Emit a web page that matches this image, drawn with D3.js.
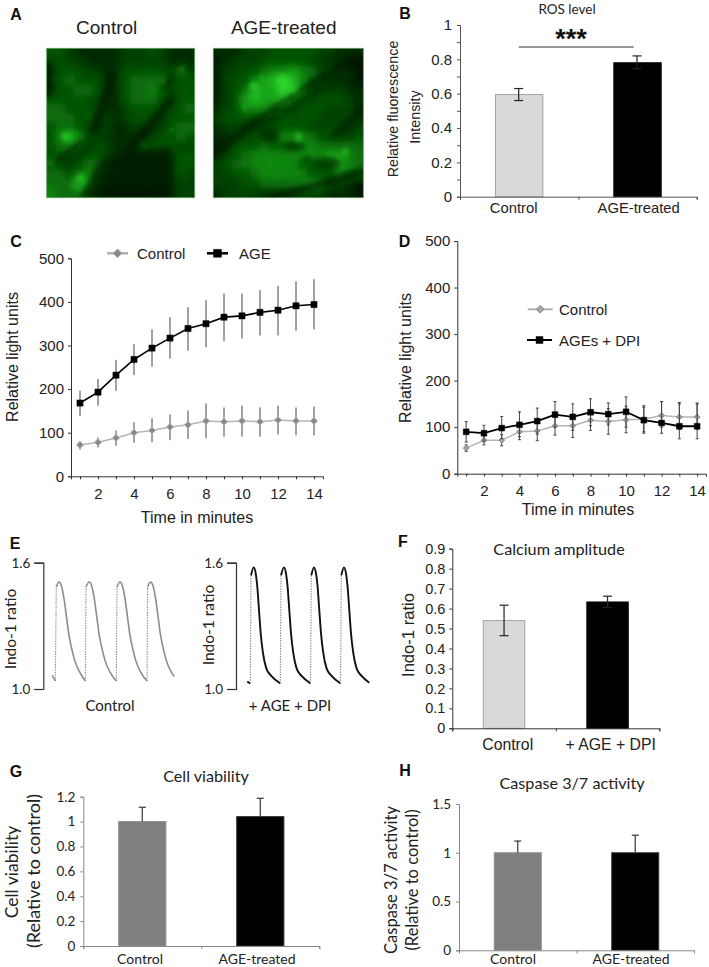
<!DOCTYPE html>
<html><head><meta charset="utf-8">
<script src="https://cdn.jsdelivr.net/npm/d3@7"></script>
<style>
html,body{margin:0;padding:0;background:#fff}
svg{display:block}
text{font-family:"Liberation Sans",Arial,sans-serif;fill:#222}
.cal{font-family:Lato,sans-serif}
</style></head><body>
<script>
// ---------- Panel A: fluorescence intensity (0-8)
const imgControl=[
[3,3,2,1,1,1,1,1,2,2,2,3,2,1,1,1],[2,3,2,2,1,1,1,1,2,2,2,2,2,1,1,1],
[1,3,3,3,2,2,1,1,3,3,3,3,3,2,4,2],[1,3,4,3,3,3,1,1,3,4,4,4,4,2,3,3],
[1,3,3,4,4,3,1,1,3,4,4,5,3,2,3,3],[3,3,3,3,3,2,1,1,3,4,4,4,3,1,3,3],
[4,4,3,3,3,2,1,1,2,3,3,3,2,2,3,4],[4,4,4,3,3,1,2,1,2,3,3,2,1,3,3,3],
[3,4,4,3,2,1,2,1,1,2,1,1,2,3,4,4],[3,5,7,5,2,2,2,1,1,1,1,2,3,3,4,3],
[3,4,4,3,1,3,2,1,1,1,2,3,3,3,2,2],[3,3,2,1,3,3,2,1,1,1,1,1,1,1,3,3],
[4,2,1,3,4,4,2,1,1,1,1,1,1,1,3,3],[4,4,3,4,5,3,1,1,1,1,1,1,1,1,3,2],
[4,4,4,7,5,2,1,1,1,1,1,1,1,1,2,2],[5,4,4,4,2,1,0,0,0,0,0,0,0,1,2,2]];
const imgTreated=[
[1,1,1,2,2,2,3,3,3,3,3,2,2,1,1,1],[1,1,2,2,2,3,3,3,3,3,2,2,1,1,0,0],
[1,2,2,3,3,4,5,5,6,5,4,2,2,1,1,0],[1,2,3,3,5,6,7,8,7,5,3,2,1,1,1,0],
[1,2,3,4,7,6,6,8,7,4,1,1,2,2,1,1],[1,2,3,6,7,6,6,6,3,1,2,3,3,3,2,1],
[2,2,3,5,5,5,3,1,1,3,3,3,2,2,2,1],[2,3,3,3,2,1,1,3,3,3,3,2,2,2,2,1],
[1,2,2,1,1,2,3,3,3,3,2,2,3,2,1,2],[1,1,1,2,3,2,2,5,5,5,4,3,2,1,2,3],
[0,1,3,3,3,4,3,3,3,5,5,4,4,4,4,4],[1,2,3,4,5,5,5,5,5,5,5,5,6,6,5,4],
[2,3,4,4,5,5,5,5,5,3,3,3,3,6,5,4],[2,2,3,3,4,5,5,5,5,5,3,3,3,4,3,3],
[2,2,2,3,3,4,4,4,4,4,5,4,2,2,1,0],[1,2,2,2,2,1,1,1,2,2,2,2,1,1,1,0]];
// gaps between cells, dark nuclei and bright puncta [x,y,...] on a 0-450 image frame
const controlGaps=[[10,365,110,285,7],[250,320,375,165,16],[150,250,205,85,15],[12,60,12,140,18],[360,130,385,90,6]];
const controlDarkArea=[[110,450],[165,340],[240,320],[375,300],[385,450]];
const controlSpots=[[65,270,13],[110,392,11],[380,250,5],[415,68,5],[300,295,4],[35,100,3],[130,210,4],[20,350,4]];
const treatedGaps=[[10,330,130,225,12],[130,225,300,110,9],[300,110,440,35,12],[190,450,450,375,17],[370,260,450,190,10],[15,30,15,200,14]];
const treatedNuclei=[[175,265,27,21],[250,300,32,15],[345,350,42,19],[285,338,18,8]];
const treatedSpots=[[128,120,13],[210,100,13],[245,130,7],[150,95,6],[100,180,6],[100,350,4],[400,315,10],[260,270,11]];

// ---------- Panel B
const rosCategories=["Control","AGE-treated"];
const rosValues=[0.595,0.78];
const rosLow=[0.56,0.745];
const rosHigh=[0.63,0.82];

// ---------- Panels C and D
const minutes=[1,2,3,4,5,6,7,8,9,10,11,12,13,14];
const cControl=[72,78,88,100,105,113,118,127,125,127,125,129,127,127];
const cControlHigh=[81,89,105,124,133,142,151,167,158,162,158,162,158,160];
const cControlLow=[61,66,70,77,78,83,86,87,91,91,91,96,94,94];
const cAge=[168,193,232,268,294,317,339,350,365,368,376,381,391,394];
const cAgeHigh=[196,223,267,303,337,365,388,404,419,419,427,437,447,452];
const cAgeLow=[138,162,196,232,251,270,288,296,310,316,323,323,334,337];
const dControl=[55,72,72,90,92,103,103,115,112,116,117,125,122,122];
const dControlHigh=[62,82,84,105,112,123,128,137,140,145,143,155,150,150];
const dControlLow=[48,62,60,73,71,83,78,93,85,88,90,100,95,95];
const dAge=[90,87,98,105,113,127,122,132,128,133,115,109,102,102];
const dAgeHigh=[112,104,123,133,141,155,150,161,152,165,146,155,153,152];
const dAgeLow=[68,70,75,80,85,100,93,103,105,100,87,87,75,75];

// ---------- Panel E: calcium transients
const eControlTime=[0,.3,.4,.67,.9,1.17,1.4,1.64,1.9,2.24,2.74,3.3,3.37,3.7,3.93,4.2,4.43,4.67,4.93,5.27,5.77,6.4,6.47,6.77,7,7.27,7.5,7.74,8,8.34,8.84,9.47,9.53,9.83,10.06,10.33,10.56,10.8,11.06,11.4,11.9,12.2];
const eControlRatio=[1.065,1.038,1.485,1.508,1.492,1.429,1.35,1.263,1.2,1.136,1.08,1.038,1.485,1.508,1.492,1.429,1.35,1.263,1.2,1.136,1.08,1.038,1.485,1.508,1.492,1.429,1.35,1.263,1.2,1.136,1.08,1.038,1.485,1.508,1.492,1.429,1.35,1.263,1.2,1.136,1.08,1.06];
const eAgeTime=[0,.3,.37,.64,.84,1,1.17,1.34,1.57,1.9,2.4,3.3,3.37,3.67,3.87,4.03,4.2,4.37,4.6,4.93,5.43,6.33,6.4,6.67,6.87,7.03,7.2,7.37,7.6,7.93,8.43,9.33,9.4,9.67,9.87,10.03,10.2,10.37,10.6,10.93,11.43,12.2];
const eAgeRatio=[1.035,1.027,1.54,1.578,1.549,1.486,1.375,1.265,1.17,1.098,1.062,1.027,1.54,1.578,1.549,1.486,1.375,1.265,1.17,1.098,1.062,1.027,1.54,1.578,1.549,1.486,1.375,1.265,1.17,1.098,1.062,1.027,1.54,1.578,1.549,1.486,1.375,1.265,1.17,1.098,1.062,1.03];

// ---------- Panel F
const caCategories=["Control","+ AGE + DPI"];
const caValues=[0.54,0.633];
const caLow=[0.464,0.605];
const caHigh=[0.617,0.662];
// ---------- Panel G
const viaCategories=["Control","AGE-treated"];
const viaValues=[1.0,1.04];
const viaHigh=[1.115,1.187];
// ---------- Panel H
const casCategories=["Control","AGE-treated"];
const casValues=[1.0,1.0];
const casHigh=[1.12,1.18];

const svg=d3.select("body").append("svg").attr("width",709).attr("height",967);
svg.append("rect").attr("width",709).attr("height",967).attr("fill","#fff");
const defs=svg.append("defs");
function blur(id,s){defs.append("filter").attr("id",id).attr("x","-20%").attr("y","-20%").attr("width","140%").attr("height","140%")
  .append("feGaussianBlur").attr("stdDeviation",s);}
blur("soft",4.2);blur("fine",2);

function label(t,x,y,opt={}){
  const e=svg.append("text").text(t).attr("text-anchor",opt.anchor||"middle")
   .attr("dominant-baseline","central").attr("font-size",opt.size||15)
   .attr("transform",`translate(${x},${y})`+(opt.rot?` rotate(${opt.rot})`:""));
  if(opt.cal)e.attr("class","cal");
  if(opt.bold)e.attr("font-weight","bold");
  if(opt.fill)e.style("fill",opt.fill);
  return e;
}
[["A",16,14],["B",405,13],["C",16,241],["D",404.5,241],["E",15,543],["F",403,541],["G",16,771],["H",405,770]]
  .forEach(d=>label(d[0],d[1],d[2],{size:16,bold:true,fill:"#111"}));

// ---------- micrographs
const green=d3.scaleLinear().domain([0,1,3,5,8]).range(["#001500","#012c01","#065206","#0c860c","#30dc30"]);
function micro(grid,gaps,area,nuclei,spots,x0,x1,y0,y1,id){
  const cols=d3.range(grid[0].length),rows=d3.range(grid.length);
  const bx=d3.scaleBand().domain(cols).range([x0,x1]);
  const by=d3.scaleBand().domain(rows).range([y0,y1]);
  const fx=d3.scaleLinear().domain([8,452]).range([x0,x1]);
  const fy=d3.scaleLinear().domain([8,452]).range([y0,y1]);
  defs.append("clipPath").attr("id",id).append("rect").attr("x",x0).attr("y",y0).attr("width",x1-x0).attr("height",y1-y0);
  const clip=svg.append("g").attr("clip-path",`url(#${id})`);
  const g=clip.append("g").attr("filter","url(#soft)");
  const pad=16;
  rows.forEach(r=>cols.forEach(c=>{
    const l=c===0?pad:0,rr=c===cols.length-1?pad:0,t=r===0?pad:0,b=r===rows.length-1?pad:0;
    g.append("rect").attr("x",bx(c)-l-.3).attr("y",by(r)-t-.3)
      .attr("width",bx.bandwidth()+l+rr+.6).attr("height",by.bandwidth()+t+b+.6)
      .attr("fill",green(grid[r][c]));
  }));
  const o=clip.append("g").attr("filter","url(#fine)");
  if(area)o.append("path").attr("d",d3.line().x(d=>fx(d[0])).y(d=>fy(d[1]))(area)+"Z").attr("fill",green(0)).attr("opacity",.55);
  o.selectAll("line").data(gaps).join("line")
    .attr("x1",d=>fx(d[0])).attr("y1",d=>fy(d[1])).attr("x2",d=>fx(d[2])).attr("y2",d=>fy(d[3]))
    .attr("stroke",green(0)).attr("stroke-width",d=>d[4]/3).attr("stroke-linecap","round").attr("opacity",.65);
  if(nuclei)o.selectAll("ellipse").data(nuclei).join("ellipse")
    .attr("cx",d=>fx(d[0])).attr("cy",d=>fy(d[1])).attr("rx",d=>d[2]/3).attr("ry",d=>d[3]/3)
    .attr("fill",green(1)).attr("opacity",.55);
  o.selectAll("circle").data(spots).join("circle")
    .attr("cx",d=>fx(d[0])).attr("cy",d=>fy(d[1])).attr("r",d=>d[2]/3)
    .attr("fill",green(8)).attr("opacity",.55);
  svg.append("rect").attr("x",x0).attr("y",y0).attr("width",x1-x0).attr("height",y1-y0)
    .attr("fill","none").attr("stroke","#5f9f5f").attr("stroke-width",.8);
}
micro(imgControl,controlGaps,controlDarkArea,null,controlSpots,46.7,194.7,48.3,197.7,"clipA");
micro(imgTreated,treatedGaps,null,treatedNuclei,treatedSpots,213.3,363.3,48.3,197.7,"clipB");
label("Control",106.7,27,{size:19});
label("AGE-treated",283.7,27,{size:19});

function styleAxis(g,color,w,size,cal){
  g.selectAll("path").attr("stroke",color).attr("stroke-width",w);
  g.selectAll("line").attr("stroke",color).attr("stroke-width",w);
  g.selectAll("text").attr("font-size",size).style("fill","#222");
  if(cal)g.selectAll("text").attr("class","cal");
}

// ---------- bar panels
function bars(o){
  const y=d3.scaleLinear().domain(o.domain).range([o.y0,o.y1]);
  const x=d3.scaleBand().domain(o.cats).range([o.x0,o.x1]).paddingInner(o.pad).paddingOuter(o.pad/2);
  const pos=d3.scaleLinear().domain([0,o.cats.length]).range([o.x0,o.x1]);
  const plot=svg.append("g");
  plot.selectAll("rect").data(o.cats).join("rect")
    .attr("x",c=>x(c)).attr("width",x.bandwidth())
    .attr("y",(c,i)=>y(o.vals[i])).attr("height",(c,i)=>o.y0-y(o.vals[i]))
    .attr("fill",(c,i)=>o.fills[i]).attr("stroke",(c,i)=>o.strokes[i]).attr("stroke-width",1);
  o.cats.forEach((c,i)=>{
    const cx=x(c)+x.bandwidth()/2+(o.errDx||0);
    const lo=o.low?o.low[i]:o.vals[i];
    const e=svg.append("g").attr("stroke",o.errColor||"#222").attr("stroke-width",o.errW||1.2);
    e.append("line").attr("x1",cx).attr("x2",cx).attr("y1",y(lo)).attr("y2",y(o.high[i]));
    e.append("line").attr("x1",cx-o.cap).attr("x2",cx+o.cap).attr("y1",y(o.high[i])).attr("y2",y(o.high[i]));
    if(o.low)e.append("line").attr("x1",cx-o.cap).attr("x2",cx+o.cap).attr("y1",y(lo)).attr("y2",y(lo));
  });
  const ya=svg.append("g").attr("transform",`translate(${o.x0},0)`)
    .call(d3.axisLeft(y).tickValues(o.ticks).tickFormat(o.fmt).tickSizeOuter(0).tickSize(o.tick||3).tickPadding(o.tpad||4));
  styleAxis(ya,o.axis,1,o.tsize,o.cal);
  const xa=svg.append("g").attr("transform",`translate(0,${o.y0})`)
    .call(d3.axisBottom(pos).tickValues(d3.range(o.cats.length+1)).tickFormat("").tickSizeOuter(0).tickSize(3));
  styleAxis(xa,o.axis,1,o.tsize,o.cal);
  o.cats.forEach((c,i)=>label(c,o.lx[i],o.ly,{size:o.lsize,cal:o.cal}));
}
const fmtAuto=v=>Math.abs(v-Math.round(v))<1e-6?String(Math.round(v)):d3.format(".1f")(v);

bars({cats:rosCategories,vals:rosValues,low:rosLow,high:rosHigh,domain:[0,1],y0:196.7,y1:25,x0:460,x1:696.7,pad:.6,
  fills:["#d9d9d9","#000"],strokes:["#a3a3a3","#000"],cap:4.5,axis:"#555",
  ticks:d3.range(0,11).map(d=>d/10),fmt:(v)=>Math.round(v*10)%2===0?fmtAuto(v):"",tsize:15,tpad:5,
  lx:[513.7,638.7],ly:208,lsize:14.8,errDx:-.5});
label("ROS level",567,8.5,{size:13.5,cal:true});
label("Relative fluorescence",393,109,{size:14.3,rot:-90});
label("Intensity",415,117,{size:14.3,rot:-90});
svg.append("line").attr("x1",518.7).attr("x2",633.7).attr("y1",47).attr("y2",47).attr("stroke","#333").attr("stroke-width",1.1);
label("***",571,39,{size:27,bold:true,fill:"#111"});

bars({cats:caCategories,vals:caValues,low:caLow,high:caHigh,domain:[0,.9],y0:728.3,y1:548.7,x0:452.3,x1:659.3,pad:.6,
  fills:["#d9d9d9","#000"],strokes:["#a3a3a3","#000"],cap:4.5,axis:"#333",
  ticks:d3.range(0,10).map(d=>d/10),fmt:fmtAuto,tsize:14.5,tpad:4,
  lx:[507.7,610.7],ly:744,lsize:15.8});
label("Calcium amplitude",559,548,{size:16.2,cal:true});
label("Indo-1 ratio",408,635,{size:16.6,rot:-90});

bars({cats:viaCategories,vals:viaValues,high:viaHigh,domain:[0,1.2],y0:946,y1:796.7,x0:83.3,x1:319.3,pad:.6,
  fills:["#7f7f7f","#000"],strokes:["#8f8f8f","#333"],cap:3.5,axis:"#888",errColor:"#444",errW:1.3,cal:true,
  ticks:[0,.2,.4,.6,.8,1,1.2],fmt:fmtAuto,tsize:13.5,tpad:5,
  lx:[140,257],ly:958.5,lsize:14});
label("Cell viability",206,775,{size:16.2,cal:true});
label("Cell viability",11,872,{size:17.5,rot:-90,cal:true});
label("(Relative to control)",33,871,{size:18,rot:-90,cal:true});

bars({cats:casCategories,vals:casValues,high:casHigh,domain:[0,1.5],y0:950.3,y1:804,x0:459,x1:694,pad:.6,
  fills:["#7f7f7f","#000"],strokes:["#8f8f8f","#333"],cap:3.5,axis:"#888",errColor:"#444",errW:1.3,cal:true,
  ticks:[0,.5,1,1.5],fmt:fmtAuto,tsize:13.5,tpad:5,
  lx:[513,631],ly:958.5,lsize:14});
label("Caspase 3/7 activity",572,782,{size:16.2,cal:true});
label("Caspase 3/7 activity",390.7,880,{size:16.5,rot:-90,cal:true});
label("(Relative to control)",412.3,880,{size:16.5,rot:-90,cal:true});

// ---------- time-course panels
function timeCourse(o){
  const x=d3.scaleLinear().domain([.5,14.5]).range([o.x0,o.x1]);
  const y=d3.scaleLinear().domain([0,500]).range([o.y0,o.y1]);
  const ya=svg.append("g").attr("transform",`translate(${o.x0},0)`)
    .call(d3.axisLeft(y).tickValues([0,100,200,300,400,500]).tickSizeOuter(0).tickSize(3).tickPadding(4));
  styleAxis(ya,"#333",1,15);
  const xa=svg.append("g").attr("transform",`translate(0,${o.y0})`)
    .call(d3.axisBottom(x).tickValues(minutes).tickFormat(d=>d%2===0?d:"").tickSizeOuter(0).tickSize(3).tickPadding(9));
  styleAxis(xa,"#333",1,15);
  o.series.forEach(s=>{
    const eb=svg.append("g").attr("stroke","#444").attr("stroke-width",1);
    minutes.forEach((m,i)=>{
      eb.append("line").attr("x1",x(m)).attr("x2",x(m)).attr("y1",y(s.low[i])).attr("y2",y(s.high[i]));
      if(o.cap){
        eb.append("line").attr("x1",x(m)-o.cap).attr("x2",x(m)+o.cap).attr("y1",y(s.low[i])).attr("y2",y(s.low[i]));
        eb.append("line").attr("x1",x(m)-o.cap).attr("x2",x(m)+o.cap).attr("y1",y(s.high[i])).attr("y2",y(s.high[i]));
      }
    });
    svg.append("path").datum(s.vals)
      .attr("d",d3.line().x((d,i)=>x(minutes[i])).y(d=>y(d)))
      .attr("fill","none").attr("stroke",s.line).attr("stroke-width",s.lw);
    svg.append("g").selectAll("path").data(s.vals).join("path")
      .attr("transform",(d,i)=>`translate(${x(minutes[i])},${y(d)})`+(s.diamond?" rotate(45)":""))
      .attr("d",d3.symbol(d3.symbolSquare,s.size))
      .attr("fill",s.fill).attr("stroke",s.stroke).attr("stroke-width",s.sw);
  });
  o.legend.forEach(s=>{
    svg.append("line").attr("x1",s.x1).attr("x2",s.x2).attr("y1",s.y).attr("y2",s.y).attr("stroke",s.line).attr("stroke-width",s.lw);
    svg.append("path").attr("transform",`translate(${(s.x1+s.x2)/2},${s.y})`+(s.diamond?" rotate(45)":""))
      .attr("d",d3.symbol(d3.symbolSquare,s.size)).attr("fill",s.fill).attr("stroke",s.stroke).attr("stroke-width",s.sw);
    label(s.text,s.tx,s.y,{size:15,anchor:"start"});
  });
  label("Time in minutes",o.tx,o.ty,{size:16});
  label("Relative light units",o.yx,o.yy,{size:16,rot:-90});
}
timeCourse({x0:71,x1:323,y0:476.3,y1:258.3,tx:197,ty:517,yx:12,yy:357,cap:0,
 series:[
  {vals:cControl,low:cControlLow,high:cControlHigh,line:"#b5b5b5",lw:1.5,fill:"#888",stroke:"#bdbdbd",sw:.8,size:26,diamond:true},
  {vals:cAge,low:cAgeLow,high:cAgeHigh,line:"#000",lw:1.6,fill:"#000",stroke:"#000",sw:.5,size:38}],
 legend:[
  {text:"Control",x1:107,x2:128,y:253.3,tx:137,line:"#b0b0b0",lw:2.5,fill:"#888",stroke:"#aaa",sw:.8,size:38,diamond:true},
  {text:"AGE",x1:207,x2:228,y:253.3,tx:239,line:"#000",lw:2.5,fill:"#000",stroke:"#000",sw:.5,size:62}]});
timeCourse({x0:457.3,x1:706,y0:473.7,y1:241,tx:578,ty:509,yx:405,yy:358,cap:1.5,
 series:[
  {vals:dControl,low:dControlLow,high:dControlHigh,line:"#b5b5b5",lw:1.5,fill:"#a5a5a5",stroke:"#666",sw:.7,size:16,diamond:true},
  {vals:dAge,low:dAgeLow,high:dAgeHigh,line:"#000",lw:1.8,fill:"#000",stroke:"#000",sw:.5,size:34}],
 legend:[
  {text:"Control",x1:527.7,x2:552.7,y:309.3,tx:559,line:"#aaa",lw:1.8,fill:"#a5a5a5",stroke:"#777",sw:.7,size:30,diamond:true},
  {text:"AGEs + DPI",x1:527,x2:552,y:340,tx:559,line:"#000",lw:2,fill:"#000",stroke:"#000",sw:.5,size:48}]});

// ---------- calcium traces
function trace(time,ratio,xr,color,w,axisX,ylabelX,ylabelY,text,textX){
  const x=d3.scaleLinear().domain([0,12.2]).range(xr);
  const y=d3.scaleLinear().domain([1,1.6]).range([689,562.7]);
  const ya=svg.append("g").attr("transform",`translate(${axisX},0)`)
    .call(d3.axisLeft(y).tickValues([1,1.6]).tickFormat(d3.format(".1f")).tickSizeOuter(0).tickSize(9).tickPadding(4));
  styleAxis(ya,"#333",1.2,13.5,true);
  const line=d3.line().x(d=>x(d[0])).y(d=>y(d[1])).curve(d3.curveMonotoneX);
  let run=[];
  const flush=()=>{if(run.length>1)svg.append("path").attr("d",line(run)).attr("fill","none").attr("stroke",color).attr("stroke-width",w);run=[];};
  time.forEach((t,i)=>{
    if(i&&ratio[i]-ratio[i-1]>.2){
      flush();
      svg.append("line").attr("x1",x(time[i-1])).attr("x2",x(t)).attr("y1",y(ratio[i-1])).attr("y2",y(ratio[i]))
        .attr("stroke","#888").attr("stroke-width",1.1).attr("stroke-dasharray","1.4 1.2");
    }
    run.push([t,ratio[i]]);
  });
  flush();
  label("Indo-1 ratio",ylabelX,ylabelY,{size:15.5,rot:-90,cal:true});
  label(text,textX,705,{size:15,cal:true});
}
trace(eControlTime,eControlRatio,[52.3,174.3],"#8c8c8c",1.6,43.3,9.5,629,"Control",110);
trace(eAgeTime,eAgeRatio,[247.3,369.3],"#111",1.9,236,208,625,"+ AGE + DPI",290);
</script>
</body></html>
